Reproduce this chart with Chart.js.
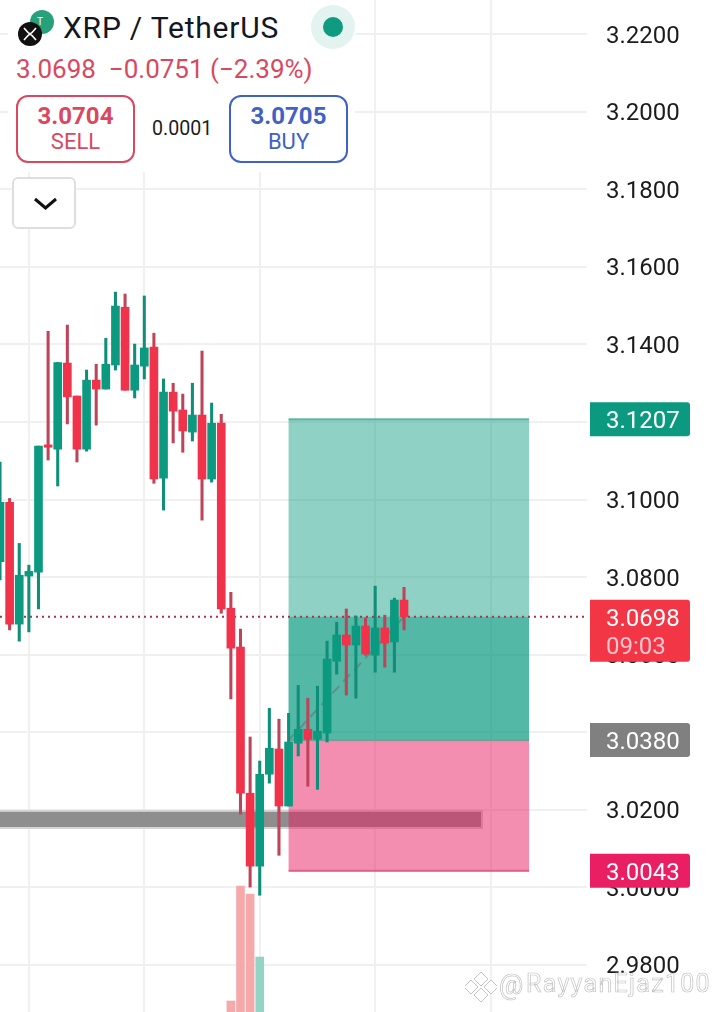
<!DOCTYPE html>
<html>
<head>
<meta charset="utf-8">
<script src="https://cdn.jsdelivr.net/npm/chart.js"></script>
<style>
    html, body { margin: 0; padding: 0; background: #fff; }
    body { width: 720px; height: 1012px; overflow: hidden; position: relative; font-family: Roboto, sans-serif; }
    canvas { position: absolute; left: 0; top: 0; }
    .head { position: absolute; left: 8px; top: 0; width: 347px; height: 172px; background: #fff; }
    .abs { position: absolute; white-space: nowrap; }
    .btn { position: absolute; top: 95px; width: 115px; height: 64px; border: 2px solid; border-radius: 12px; text-align: center; background: #fff; }
    .btn b { display: block; font-size: 24px; font-weight: 700; line-height: 26px; margin-top: 6px; }
    .btn span { display: block; font-size: 22px; line-height: 26px; }
    .drop { position: absolute; left: 12px; top: 177px; width: 60px; height: 48px; border: 2px solid #dedede; border-radius: 6px; background: #fff; }
    .mark { position: absolute; top: 969px; font-size: 25px; color: #fff; -webkit-text-stroke: 0.7px #c4c4c4; white-space: nowrap; }
</style>
</head>
<body>
<canvas id="chart" width="720" height="1012"></canvas>

<div class="head"></div>
<svg class="abs" style="left:15px;top:5px" width="50" height="45" viewBox="0 0 50 45">
    <circle cx="27" cy="17" r="12" fill="#26a17b"/>
    <text x="22" y="20" font-size="10" fill="#fff" font-family="Roboto">T</text>
    <circle cx="15" cy="29" r="12" fill="#111"/>
    <path d="M9 23 L13 27.5 Q15 29.5 17 27.5 L21 23 M9 35 L13 30.5 Q15 28.5 17 30.5 L21 35" stroke="#fff" stroke-width="1.6" fill="none"/>
</svg>
<div class="abs" style="left:63px;top:10px;font-size:30px;letter-spacing:0.8px;line-height:36px;color:#131722">XRP / TetherUS</div>
<svg class="abs" style="left:311px;top:5px" width="44" height="44"><circle cx="22" cy="22" r="22" fill="#e3f3f0"/><circle cx="22" cy="22" r="10" fill="#0e9b80"/></svg>
<div class="abs" style="left:16px;top:54px;font-size:26px;line-height:30px;color:#d9485f">3.0698&nbsp; −0.0751 (−2.39%)</div>
<div class="btn" style="left:16px;color:#d9485f;border-color:#d9485f"><b>3.0704</b><span>SELL</span></div>
<div class="abs" style="left:152px;top:118px;font-size:19.6px;line-height:22px;color:#1c1c1c">0.0001</div>
<div class="btn" style="left:229px;color:#3f62c4;border-color:#3f62c4"><b>3.0705</b><span>BUY</span></div>
<div class="drop"><svg width="60" height="48"><path d="M21 20 L31.5 29 L42 20" stroke="#111" stroke-width="3" fill="none"/></svg></div>

<svg class="abs" style="left:465px;top:971px" width="32" height="32" viewBox="0 0 32 32">
    <path d="M16 1 L23 8 L16 15 L9 8 Z M6 9 L13 16 L6 23 L-1 16 Z M26 9 L33 16 L26 23 L19 16 Z M16 17 L23 24 L16 31 L9 24 Z" fill="#fff" stroke="#c4c4c4" stroke-width="1"/>
</svg>
<div class="mark" style="left:499px;font-size:27px">@</div>
<div class="mark" style="left:526px;letter-spacing:1.3px">RayyanEjaz100</div>

<script>
    const opens = [3.0840, 3.0993, 3.0679, 3.0803, 3.0813, 3.1141, 3.1130, 3.1352, 3.1267, 3.1130, 3.1308,
        3.1285, 3.1347, 3.1496, 3.1282, 3.1344, 3.1393, 3.1055, 3.1277, 3.1231, 3.1174, 3.1218, 3.1053,
        3.1197, 3.0720, 3.0620, 3.0243, 3.0055, 3.0292, 3.0357, 3.0210, 3.0372, 3.0408, 3.0382, 3.0398,
        3.0583, 3.0651, 3.0625, 3.0674, 3.0599, 3.0669, 3.0633, 3.0741];
    const highs = [3.1097, 3.1003, 3.0887, 3.0831, 3.1138, 3.1434, 3.1354, 3.1450, 3.1267, 3.1334, 3.1349,
        3.1416, 3.1535, 3.1530, 3.1401, 3.1525, 3.1429, 3.1311, 3.1300, 3.1272, 3.1300, 3.1383, 3.1249,
        3.1220, 3.0761, 3.0666, 3.0388, 3.0326, 3.0462, 3.0434, 3.0449, 3.0521, 3.0488, 3.0519, 3.0635,
        3.0684, 3.0718, 3.0700, 3.0695, 3.0777, 3.0702, 3.0746, 3.0774];
    const lows = [3.0793, 3.0664, 3.0635, 3.0659, 3.0718, 3.1102, 3.1035, 3.1195, 3.1097, 3.1125, 3.1192,
        3.1285, 3.1334, 3.1282, 3.1262, 3.1311, 3.1042, 3.0973, 3.1146, 3.1122, 3.1151, 3.0947, 3.1045,
        3.0707, 3.0486, 3.0189, 3.0001, 2.9980, 3.0269, 3.0083, 3.0210, 3.0339, 3.0261, 3.0253, 3.0375,
        3.0550, 3.0496, 3.0488, 3.0599, 3.0555, 3.0568, 3.0555, 3.0664];
    const closes = [3.0993, 3.0679, 3.0805, 3.0815, 3.1138, 3.1135, 3.1353, 3.1265, 3.1130, 3.1308, 3.1285,
        3.1349, 3.1499, 3.1282, 3.1347, 3.1391, 3.1053, 3.1277, 3.1228, 3.1177, 3.1218, 3.1053, 3.1197,
        3.0718, 3.0617, 3.0243, 3.0055, 3.0292, 3.0359, 3.0210, 3.0375, 3.0408, 3.0382, 3.0403, 3.0589,
        3.0651, 3.0625, 3.0674, 3.0602, 3.0669, 3.0630, 3.0741, 3.0698];

    const volumeIndex = [24, 25, 26, 27];
    const volumeValues = [1.1, 12.6, 11.8, 5.5];

    const priceTicks = [2.98, 3.00, 3.02, 3.04, 3.06, 3.08, 3.10, 3.12, 3.14, 3.16, 3.18, 3.20, 3.22];
    const gridIndex = [3, 15, 27, 39, 51];

    const lastPrice = 3.0698;
    const targetPrice = 3.1207;
    const entryPrice = 3.0380;
    const stopPrice = 3.0043;
    const boxStart = 30;
    const boxEnd = 55;
    const lastIndex = 42;
    const zoneTop = 3.0195;
    const zoneBottom = 3.0156;
    const zoneEnd = 50;

    const green = '#0b9a80';
    const red = '#f0334a';

    const candles = opens.map((o, i) => ({ x: i, o, c: closes[i], h: highs[i], l: lows[i] }));

    // things the library has no mark for: the position boxes and the price tags
    const positionBoxes = {
        id: 'positionBoxes',
        beforeDatasetsDraw(chart) {
            const { ctx, scales: { x, y } } = chart;
            const left = x.getPixelForValue(boxStart);
            const right = x.getPixelForValue(boxEnd);
            const rect = (x1, v1, x2, v2, color) => {
                ctx.fillStyle = color;
                ctx.fillRect(x1, y.getPixelForValue(v1), x2 - x1, y.getPixelForValue(v2) - y.getPixelForValue(v1));
            };
            ctx.save();
            // grey zone, its soft edge first
            const zr = x.getPixelForValue(zoneEnd);
            ctx.fillStyle = '#d4d4d4';
            ctx.fillRect(0, y.getPixelForValue(zoneTop) - 2, zr + 2, y.getPixelForValue(zoneBottom) - y.getPixelForValue(zoneTop) + 4);
            rect(0, zoneTop, zr, zoneBottom, '#8e8e8e');

            rect(left, targetPrice, right, entryPrice, 'rgba(8,153,129,0.45)');
            rect(left, lastPrice, right, entryPrice, 'rgba(8,153,129,0.45)');
            rect(left, entryPrice, right, stopPrice, 'rgba(233,30,99,0.5)');

            ctx.fillStyle = '#5fb3a1';
            ctx.fillRect(left, y.getPixelForValue(targetPrice) - 1, right - left, 2);
            ctx.fillStyle = '#7f9a90';
            ctx.fillRect(left, y.getPixelForValue(entryPrice) - 1, right - left, 2);
            ctx.fillStyle = '#e0608c';
            ctx.fillRect(left, y.getPixelForValue(stopPrice) - 1, right - left, 2);
            ctx.restore();
        }
    };

    const priceTags = {
        id: 'priceTags',
        afterDraw(chart) {
            const { ctx, scales: { y } } = chart;
            const tag = (value, color, lines, height) => {
                const top = y.getPixelForValue(value) - 17;
                ctx.fillStyle = color;
                ctx.beginPath();
                ctx.roundRect(590, top, 100, height, [0, 3, 3, 0]);
                ctx.fill();
                ctx.font = '24px Roboto';
                ctx.textBaseline = 'middle';
                lines.forEach((t, i) => {
                    ctx.fillStyle = i ? '#ffc4cc' : '#fff';
                    ctx.fillText(t, 606, top + 20 + i * 28);
                });
            };
            ctx.save();
            tag(targetPrice, '#0b9a80', [targetPrice.toFixed(4)], 34);
            tag(entryPrice, '#808080', [entryPrice.toFixed(4)], 34);
            tag(stopPrice, '#e91e63', [stopPrice.toFixed(4)], 34);
            tag(lastPrice, '#f23645', [lastPrice.toFixed(4), '09:03'], 62);
            ctx.restore();
        }
    };

    const noPadding = axis => {
        axis.paddingTop = 0;
        axis.paddingBottom = 0;
        axis.paddingLeft = 0;
        axis.paddingRight = 0;
    };

    new Chart(document.getElementById('chart'), {
        data: {
            datasets: [
                {
                    type: 'bar',
                    yAxisID: 'vol',
                    data: volumeIndex.map((i, n) => ({ x: i, y: volumeValues[n] })),
                    backgroundColor: volumeIndex.map(i => closes[i] >= opens[i] ? '#93d4c7' : '#f5a9ab'),
                    barThickness: 8,
                    order: 5
                },
                {
                    type: 'line',
                    data: [{ x: 0, y: lastPrice }, { x: 61.02, y: lastPrice }],
                    borderColor: '#a8344a',
                    borderWidth: 2,
                    borderDash: [2, 4],
                    pointRadius: 0,
                    order: 3
                },
                {
                    type: 'line',
                    data: [{ x: boxStart, y: entryPrice }, { x: lastIndex, y: lastPrice }],
                    borderColor: 'rgba(110,110,110,0.55)',
                    borderWidth: 2,
                    borderDash: [10, 6],
                    pointRadius: 0,
                    order: 4
                },
                {
                    type: 'bar',
                    data: candles.map(k => ({ x: k.x, y: [k.l, k.h] })),
                    backgroundColor: candles.map(k => k.c >= k.o ? '#0f8f79' : '#bd4459'),
                    barThickness: 2.4,
                    order: 2
                },
                {
                    type: 'bar',
                    data: candles.map(k => ({ x: k.x, y: [Math.min(k.o, k.c), Math.max(k.o, k.c)] })),
                    backgroundColor: candles.map(k => k.c >= k.o ? green : red),
                    barThickness: 8,
                    order: 1
                }
            ]
        },
        options: {
            responsive: false,
            animation: false,
            devicePixelRatio: 1,
            layout: { padding: 0 },
            datasets: { bar: { grouped: false } },
            plugins: { legend: { display: false }, tooltip: { enabled: false } },
            scales: {
                x: {
                    type: 'linear',
                    offset: false,
                    min: 0,
                    max: 61.02,
                    border: { display: false },
                    grid: { color: '#f0f0f0', lineWidth: 2, drawTicks: false, offset: false },
                    ticks: { display: false },
                    afterBuildTicks: axis => { axis.ticks = gridIndex.map(v => ({ value: v })); },
                    afterFit: axis => { axis.height = 0; noPadding(axis); }
                },
                y: {
                    type: 'linear',
                    position: 'right',
                    min: 2.9679,
                    max: 3.2288,
                    border: { display: false },
                    grid: { color: '#f0f0f0', lineWidth: 2, drawTicks: false },
                    ticks: {
                        color: '#1c1c1c',
                        // empty first line with a short line height nudges the label down about 2px
                        font: { family: 'Roboto', size: 24, lineHeight: 0.2 },
                        padding: 19,
                        callback: v => ['', v.toFixed(4)]
                    },
                    afterBuildTicks: axis => { axis.ticks = priceTicks.map(v => ({ value: v })); },
                    afterFit: axis => { axis.width = 133; noPadding(axis); }
                },
                vol: {
                    type: 'linear',
                    display: false,
                    min: 0,
                    max: 101.2
                }
            }
        },
        plugins: [positionBoxes, priceTags]
    });
</script>
</body>
</html>
